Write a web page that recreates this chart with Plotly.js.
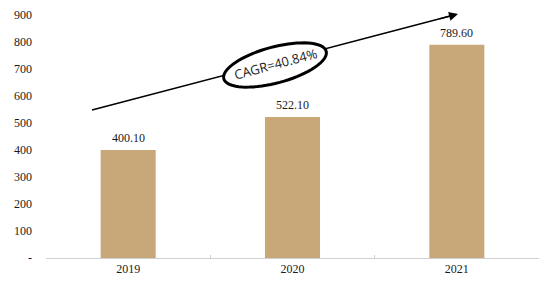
<!DOCTYPE html>
<html><head><meta charset="utf-8">
<script src="https://cdn.plot.ly/plotly-3.0.1.min.js"></script>
<style>html,body{margin:0;padding:0;background:#fff;}#chart{width:546px;height:287px;}</style>
</head><body><div id="chart"></div>
<script>
var years = ['2019', '2020', '2021'];
var values = [400.10, 522.10, 789.60];
var valueLabels = ['400.10', '522.10', '789.60'];
var yTickVals = [0, 100, 200, 300, 400, 500, 600, 700, 800, 900];
var yTickText = ['-', '100', '200', '300', '400', '500', '600', '700', '800', '900'];
var cagrText = 'CAGR=40.84%';

var W = 546, H = 287, mL = 46, mR = 7, mT = 15, mB = 29;
var pw = W - mL - mR, ph = H - mT - mB;
function px2paperX(px) { return (px - mL) / pw; }
function px2paperY(py) { return (H - mB - py) / ph; }

// arrow geometry (pixels)
var tailX = 92, tailY = 110, headX = 458, headY = 14;

// ellipse around CAGR label
var cx = 275, cy = 65, ea = 53, eb = 18, rot = -15 * Math.PI / 180;
var pts = [];
for (var i = 0; i <= 72; i++) {
  var t = i / 72 * 2 * Math.PI;
  var ex = ea * Math.cos(t), ey = eb * Math.sin(t);
  var rx = cx + ex * Math.cos(rot) - ey * Math.sin(rot);
  var ry = cy + ex * Math.sin(rot) + ey * Math.cos(rot);
  pts.push((i === 0 ? 'M' : 'L') + px2paperX(rx).toFixed(5) + ',' + px2paperY(ry).toFixed(5));
}
var ellPath = pts.join(' ') + ' Z';

var serif = 'Liberation Serif, Times New Roman, serif';
var txtColor = '#1a1a1a';
var trace = {
  type: 'bar', x: years, y: values,
  marker: {color: '#C8A878'},
  hoverinfo: 'none'
};

var annotations = years.map(function (yr, i) {
  return {
    xref: 'x', yref: 'y', x: i, y: values[i],
    text: valueLabels[i], showarrow: false,
    xanchor: 'center', yanchor: 'bottom', yshift: 3,
    font: {family: serif, size: 12, color: txtColor}
  };
});
annotations.push({
  xref: 'paper', yref: 'paper',
  x: px2paperX(headX), y: px2paperY(headY),
  axref: 'pixel', ayref: 'pixel', ax: -20, ay: 20 * (tailY - headY) / (headX - tailX),
  showarrow: true, arrowhead: 2, arrowsize: 1.2, arrowwidth: 1.5, arrowcolor: '#000',
  text: ''
});
annotations.push({
  xref: 'paper', yref: 'paper', xanchor: 'center', yanchor: 'middle',
  x: px2paperX(275), y: px2paperY(64),
  text: cagrText, showarrow: false, textangle: -15,
  font: {family: 'Open Sans, sans-serif', size: 13, color: '#222'}
});

var layout = {
  width: W, height: H,
  margin: {l: mL, r: mR, t: mT, b: mB, pad: 0},
  paper_bgcolor: '#fff', plot_bgcolor: '#fff',
  showlegend: false,
  bargap: 0.665,
  font: {family: serif, size: 12, color: txtColor},
  xaxis: {
    type: 'category', range: [-0.5, 2.5], showgrid: false, zeroline: false,
    showline: true, linecolor: '#d0d0d0', linewidth: 1,
    ticks: 'inside', tickson: 'boundaries', ticklen: 3, tickcolor: '#d0d0d0',
    tickfont: {family: serif, size: 12, color: txtColor}
  },
  yaxis: {
    range: [0, 900], showgrid: false, zeroline: false, showline: false,
    tickvals: yTickVals, ticktext: yTickText, ticks: '',
    ticklabelstandoff: 13,
    tickfont: {family: serif, size: 12, color: txtColor}
  },
  shapes: [{
    type: 'line', xref: 'paper', yref: 'paper',
    x0: px2paperX(tailX), y0: px2paperY(tailY),
    x1: px2paperX(headX - 4), y1: px2paperY(headY + 1),
    line: {color: '#000', width: 1.5}, layer: 'above'
  }, {
    type: 'path', xref: 'paper', yref: 'paper', path: ellPath,
    fillcolor: '#ffffff', opacity: 1, line: {color: '#000', width: 3}, layer: 'above'
  }],
  annotations: annotations
};
Plotly.newPlot('chart', [trace], layout, {staticPlot: true});
</script></body></html>
